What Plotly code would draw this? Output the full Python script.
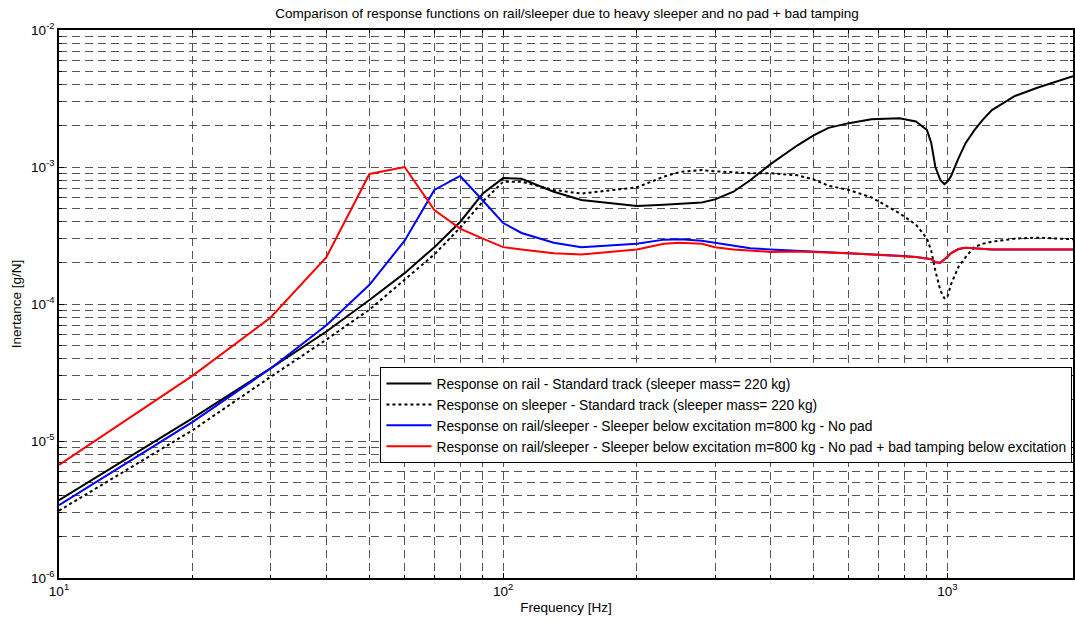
import plotly.graph_objects as go

freq = [10, 20, 30, 40, 50, 60, 70, 80, 90, 100, 110, 130, 150, 200, 230, 250, 280, 300,
        330, 360, 400, 460, 500, 540, 600, 675, 780, 850, 900, 920, 940, 965, 985, 1000,
        1020, 1060, 1100, 1150, 1200, 1260, 1370, 1420, 1600, 1920]

rail_std = [3.7e-6, 1.47e-5, 3.4e-5, 6.3e-5, 1.07e-4, 1.68e-4, 2.6e-4, 3.97e-4, 6.4e-4, 8.3e-4,
            8.2e-4, 6.6e-4, 5.75e-4, 5.2e-4, 5.3e-4, 5.4e-4, 5.5e-4, 5.8e-4, 6.6e-4, 8.0e-4,
            1.05e-3, 1.44e-3, 1.7e-3, 1.93e-3, 2.09e-3, 2.23e-3, 2.27e-3, 2.15e-3, 1.86e-3, 1.5e-3,
            1.0e-3, 8.0e-4, 7.5e-4, 7.8e-4, 8.6e-4, 1.16e-3, 1.5e-3, 1.85e-3, 2.2e-3, 2.6e-3,
            3.1e-3, 3.3e-3, 3.8e-3, 4.6e-3]

sleeper_std = [3.1e-6, 1.2e-5, 2.95e-5, 5.5e-5, 9.1e-5, 1.5e-4, 2.3e-4, 3.6e-4, 5.6e-4, 7.8e-4,
               7.8e-4, 6.8e-4, 6.4e-4, 7.1e-4, 8.5e-4, 9.2e-4, 9.5e-4, 9.3e-4, 9.1e-4, 9.0e-4,
               9.0e-4, 8.7e-4, 8.1e-4, 7.3e-4, 6.8e-4, 6.0e-4, 4.6e-4, 3.8e-4, 3.0e-4, 2.45e-4,
               1.75e-4, 1.25e-4, 1.1e-4, 1.12e-4, 1.4e-4, 1.87e-4, 2.2e-4, 2.6e-4, 2.75e-4, 2.85e-4,
               2.95e-4, 3.0e-4, 3.05e-4, 2.97e-4]

heavy_nopad = [3.4e-6, 1.38e-5, 3.4e-5, 7.0e-5, 1.38e-4, 2.9e-4, 6.8e-4, 8.6e-4, 5.7e-4, 3.9e-4,
               3.3e-4, 2.8e-4, 2.6e-4, 2.75e-4, 2.95e-4, 2.97e-4, 2.9e-4, 2.8e-4, 2.65e-4, 2.55e-4,
               2.5e-4, 2.45e-4, 2.4e-4, 2.38e-4, 2.35e-4, 2.3e-4, 2.25e-4, 2.2e-4, 2.15e-4, 2.12e-4,
               2.02e-4, 2.0e-4, 2.12e-4, 2.2e-4, 2.35e-4, 2.52e-4, 2.57e-4, 2.55e-4, 2.52e-4, 2.5e-4,
               2.5e-4, 2.5e-4, 2.5e-4, 2.5e-4]

heavy_nopad_tamp = [6.7e-6, 3.0e-5, 8.0e-5, 2.2e-4, 8.9e-4, 1.0e-3, 4.85e-4, 3.55e-4, 3.0e-4, 2.6e-4,
                    2.5e-4, 2.35e-4, 2.3e-4, 2.5e-4, 2.75e-4, 2.8e-4, 2.75e-4, 2.6e-4, 2.5e-4, 2.45e-4,
                    2.4e-4, 2.42e-4, 2.4e-4, 2.38e-4, 2.35e-4, 2.3e-4, 2.25e-4, 2.2e-4, 2.15e-4, 2.12e-4,
                    2.02e-4, 2.0e-4, 2.12e-4, 2.2e-4, 2.35e-4, 2.52e-4, 2.57e-4, 2.55e-4, 2.52e-4, 2.5e-4,
                    2.5e-4, 2.5e-4, 2.5e-4, 2.5e-4]

names = [
    "Response on rail - Standard track (sleeper mass= 220 kg)",
    "Response on sleeper - Standard track (sleeper mass= 220 kg)",
    "Response on rail/sleeper - Sleeper below excitation m=800 kg - No pad",
    "Response on rail/sleeper - Sleeper below excitation m=800 kg - No pad + bad tamping below excitation",
]

x_tickvals = [10, 100, 1000]
x_ticktext = ["10<sup>1</sup>", "10<sup>2</sup>", "10<sup>3</sup>"]
y_tickvals = [1e-6, 1e-5, 1e-4, 1e-3, 1e-2]
y_ticktext = ["10<sup>-6</sup>", "10<sup>-5</sup>", "10<sup>-4</sup>", "10<sup>-3</sup>", "10<sup>-2</sup>"]

FONT = "Liberation Sans, Arial, Helvetica"
FS = 13.5

fig = go.Figure()
fig.add_trace(go.Scatter(x=freq, y=rail_std, mode="lines", name=names[0],
                         line=dict(color="black", width=2)))
fig.add_trace(go.Scatter(x=freq, y=sleeper_std, mode="lines", name=names[1],
                         line=dict(color="black", width=2, dash="dot")))
fig.add_trace(go.Scatter(x=freq, y=heavy_nopad, mode="lines", name=names[2],
                         line=dict(color="#0000ff", width=2)))
fig.add_trace(go.Scatter(x=freq, y=heavy_nopad_tamp, mode="lines", name=names[3],
                         line=dict(color="#ff0000", width=2)))

grid_color = "#555555"
axis_common = dict(
    type="log", showline=True, linecolor="black", linewidth=1.5, mirror="ticks",
    ticks="inside", ticklen=5, tickcolor="black",
    showgrid=True, gridcolor=grid_color, griddash="8px,5px", gridwidth=1,
    tickfont=dict(family=FONT, size=FS, color="black"),
    zeroline=False,
    minor=dict(ticks="inside", ticklen=3, tickcolor="black", showgrid=True,
               gridcolor=grid_color, griddash="8px,5px", gridwidth=1, dtick="D1"),
)

fig.update_layout(
    width=1075, height=621,
    margin=dict(l=59, r=0, t=30, b=43),
    paper_bgcolor="white", plot_bgcolor="white",
    title=dict(text="Comparison of response functions on rail/sleeper due to heavy sleeper and no pad + bad tamping",
               x=(59 + 1075) / 2 / 1075, xanchor="center", y=1 - 13 / 621, yanchor="middle",
               font=dict(family=FONT, size=FS, color="black")),
    font=dict(family=FONT, size=FS, color="black"),
    legend=dict(x=0.317, y=0.385, xanchor="left", yanchor="top",
                bgcolor="white", bordercolor="black", borderwidth=1,
                font=dict(family=FONT, size=13.8, color="black"),
                tracegroupgap=0, itemwidth=45),
    showlegend=True,
)
fig.update_xaxes(**axis_common, range=[1, 3.283], tickvals=x_tickvals, ticktext=x_ticktext,
                 title=dict(text="Frequency [Hz]", standoff=5,
                            font=dict(family=FONT, size=FS)))
fig.update_yaxes(**axis_common, range=[-6, -2], tickvals=y_tickvals, ticktext=y_ticktext,
                 title=dict(text="Inertance [g/N]", standoff=6,
                            font=dict(family=FONT, size=FS)))

fig.write_html("out.html")
